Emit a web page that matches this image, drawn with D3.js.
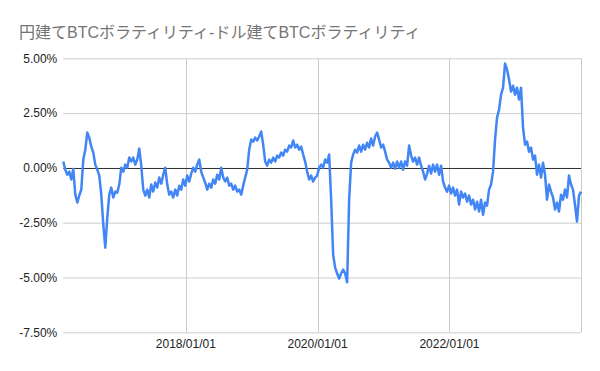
<!DOCTYPE html>
<html>
<head>
<meta charset="utf-8">
<script src="https://cdn.jsdelivr.net/npm/d3@7"></script>
<style>
  body { margin: 0; background: #fff; }
  svg { display: block; }
</style>
</head>
<body>
<script>
// Chart data
var title = "円建てBTCボラティリティ-ドル建てBTCボラティリティ";
var startDate = "2016-02-22",
    endDate = "2023-12-31";
var yTicks = [-7.5, -5, -2.5, 0, 2.5, 5];
var gridDates = ["2018-01-01", "2020-01-01", "2022-01-01", "2024-01-01"];
var labelDates = ["2018-01-01", "2020-01-01", "2022-01-01"];

// difference in volatility (%), evenly spaced from startDate to endDate
var diffValues = [
  0.29, -0.08, -0.31, -0.17, -0.53, -0.05, -1.22, -1.58, -1.26, -0.99,
  0.38, 0.83, 1.61, 1.38, 0.97, 0.70, 0.15, -0.08, -0.35, -1.22,
  -2.58, -3.64, -2.27, -1.22, -0.90, -1.35, -1.08, -1.13, -0.76, 0.01,
  -0.17, 0.15, 0.01, 0.47, 0.29, 0.47, 0.15, 0.38, 0.88, 0.10,
  -0.99, -1.26, -0.99, -1.35, -0.76, -1.08, -0.67, -0.90, -0.44, -0.72,
  -0.31, 0.01, -0.76, -1.22, -1.08, -1.35, -0.99, -1.26, -0.81, -0.99,
  -0.53, -0.81, -0.35, -0.62, -0.26, 0.01, -0.17, 0.15, 0.38, -0.17,
  -0.44, -0.67, -0.99, -0.72, -0.90, -0.53, -0.72, -0.31, -0.53, 0.01,
  -0.44, -0.62, -0.44, -0.81, -0.72, -0.99, -0.81, -1.08, -0.99, -1.22,
  -0.81, -0.44, -0.08, 0.83, 1.29, 1.20, 1.38, 1.25, 1.43, 1.66,
  1.06, 0.29, 0.10, 0.38, 0.24, 0.47, 0.29, 0.56, 0.47, 0.70,
  0.56, 0.83, 0.74, 1.02, 0.93, 1.25, 0.93, 1.06, 0.83, 0.97,
  0.61, 0.29, -0.17, -0.53, -0.35, -0.62, -0.44, -0.35, 0.01, 0.15,
  0.01, 0.38, 0.24, 0.61, -1.45, -3.96, -4.55, -4.82, -5.05, -4.82,
  -4.64, -4.82, -5.22, -1.45, 0.24, 0.61, 0.83, 0.70, 1.02, 0.74,
  1.06, 0.83, 1.15, 0.93, 1.34, 1.02, 1.43, 1.61, 1.29, 0.93,
  1.06, 0.74, 0.38, 0.24, 0.01, 0.24, -0.03, 0.29, 0.01, 0.29,
  -0.08, 0.29, 0.10, 1.02, 0.56, 0.29, 0.47, 0.15, 0.47, 0.10,
  -0.17, -0.53, -0.26, 0.10, -0.26, 0.15, -0.17, 0.15, -0.31, 0.10,
  -0.62, -0.90, -1.08, -0.81, -1.17, -0.90, -1.26, -0.99, -1.67, -1.08,
  -1.35, -1.17, -1.54, -1.26, -1.67, -1.45, -1.90, -1.54, -1.99, -1.45,
  -2.14, -1.58, -1.72, -0.99, -0.76, -0.17, 1.29, 2.29, 2.66, 3.34,
  3.66, 4.76, 4.48, 4.03, 3.48, 3.75, 3.34, 3.66, 3.12, 3.66,
  1.84, 1.06, 1.20, 0.74, 0.93, 0.38, 0.56, -0.31, 0.15, -0.44,
  0.24, -0.31, -1.45, -0.76, -1.08, -1.35, -1.90, -1.58, -1.99, -1.22,
  -1.45, -0.99, -1.35, -0.35, -0.76, -0.99, -1.67, -2.45, -1.26, -1.08
];

// Chart stuff
var width = 600,
    height = 371,
    margin = {top: 58.3, right: 19, bottom: 38.7, left: 63.3};

var parse = d3.timeParse("%Y-%m-%d"),
    fmtDate = d3.timeFormat("%Y/%m/%d");

var start = parse(startDate),
    end = parse(endDate),
    step = (end - start) / (diffValues.length - 1);

var data = diffValues.map(function(v, i) {
  return {date: new Date(+start + i * step), value: v};
});

var x = d3.scaleTime()
    .domain([start, end])
    .range([margin.left, width - margin.right]);

var y = d3.scaleLinear()
    .domain([-7.5, 5])
    .range([height - margin.bottom, margin.top]);

var svg = d3.select("body").append("svg")
    .attr("width", width)
    .attr("height", height)
    .style("font-family", "Arial, 'Liberation Sans', 'Noto Sans CJK JP', sans-serif");

// title
svg.append("text")
    .attr("x", 19)
    .attr("y", 38)
    .attr("fill", "#757575")
    .style("font-size", "16px")
    .text(title);

// horizontal grid + y labels
var yAxis = d3.axisLeft(y)
    .tickValues(yTicks)
    .tickSize(-(width - margin.left - margin.right))
    .tickPadding(6)
    .tickFormat(function(d) { return d.toFixed(2) + "%"; });

svg.append("g")
    .attr("class", "y-axis")
    .attr("transform", "translate(" + margin.left + ",0)")
    .call(yAxis)
    .call(function(g) {
      g.select(".domain").remove();
      g.selectAll("line").attr("stroke", "#cccccc");
      g.selectAll("text").attr("fill", "#222").style("font-size", "12px");
    });

// vertical grid
svg.append("g")
    .attr("class", "x-grid")
    .selectAll("line")
    .data(gridDates.map(parse))
  .enter().append("line")
    .attr("x1", function(d) { return Math.round(x(d)) + 0.5; })
    .attr("x2", function(d) { return Math.round(x(d)) + 0.5; })
    .attr("y1", margin.top)
    .attr("y2", height - margin.bottom)
    .attr("stroke", "#cccccc");

// x labels
svg.append("g")
    .attr("class", "x-labels")
    .selectAll("text")
    .data(labelDates.map(parse))
  .enter().append("text")
    .attr("x", function(d) { return x(d); })
    .attr("y", 348)
    .attr("text-anchor", "middle")
    .attr("fill", "#222")
    .style("font-size", "12px")
    .text(fmtDate);

// zero line
svg.append("line")
    .attr("x1", margin.left)
    .attr("x2", width - margin.right)
    .attr("y1", Math.round(y(0)) + 0.5)
    .attr("y2", Math.round(y(0)) + 0.5)
    .attr("stroke", "#333333");

// the series
var line = d3.line()
    .x(function(d) { return x(d.date); })
    .y(function(d) { return y(d.value); });

svg.append("path")
    .datum(data)
    .attr("fill", "none")
    .attr("stroke", "#4285f4")
    .attr("stroke-width", 2.5)
    .attr("stroke-linejoin", "round")
    .attr("d", line);
</script>
</body>
</html>
